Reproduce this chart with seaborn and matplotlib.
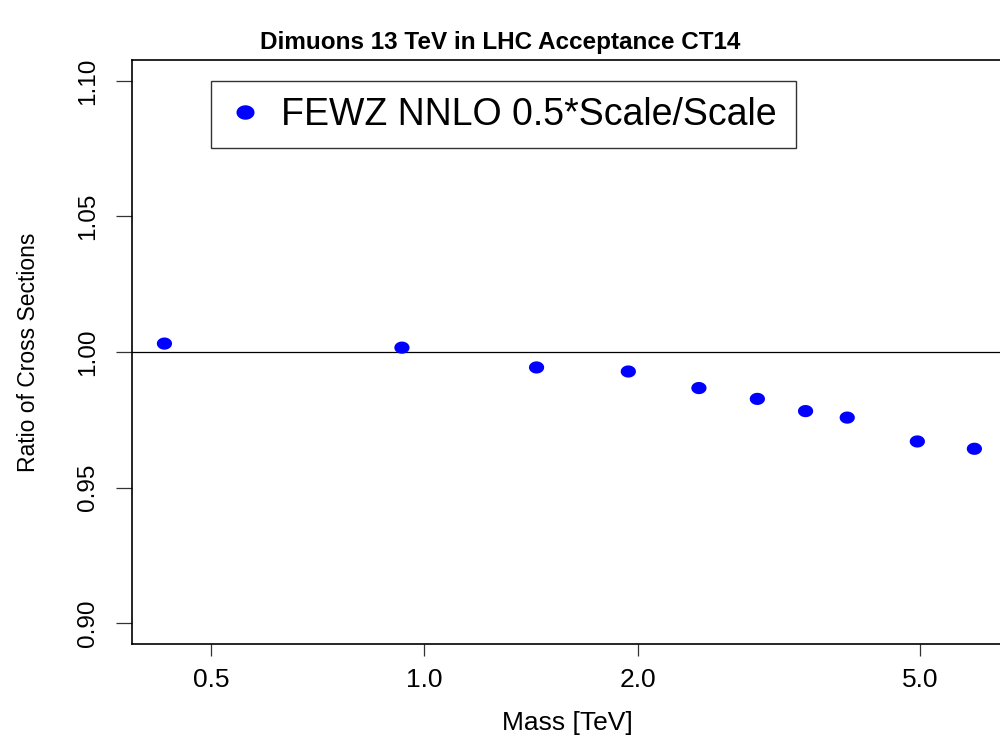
import numpy as np
import pandas as pd
import matplotlib
matplotlib.use("Agg")
import matplotlib.pyplot as plt
from matplotlib.path import Path
from matplotlib.lines import Line2D
import seaborn as sns

# Dimuon invariant-mass bins (TeV) and the cross-section ratio in each
mass_tev = [0.43, 0.93, 1.44, 1.94, 2.44, 2.95, 3.45, 3.95, 4.96, 5.97]
ratio = [1.0031, 1.0016, 0.9943, 0.9928, 0.9867, 0.9827, 0.9782, 0.9758, 0.9670, 0.9643]

x_ticks = [0.5, 1.0, 2.0, 5.0]
x_tick_labels = ["0.5", "1.0", "2.0", "5.0"]
y_ticks = [0.90, 0.95, 1.00, 1.05, 1.10]
y_tick_labels = ["0.90", "0.95", "1.00", "1.05", "1.10"]

series_label = "FEWZ NNLO 0.5*Scale/Scale"
title = "Dimuons 13 TeV in LHC Acceptance CT14"

df = pd.DataFrame({"mass": mass_tev, "ratio": ratio})

sns.set_style("white")
plt.rcParams["font.family"] = ["Liberation Sans", "DejaVu Sans"]
plt.rcParams["text.color"] = "black"
plt.rcParams["axes.labelcolor"] = "black"
plt.rcParams["xtick.color"] = "black"
plt.rcParams["ytick.color"] = "black"

# slightly wide elliptical dot
t = np.linspace(0, 2 * np.pi, 64)
ellipse = Path(np.column_stack([1.25 * np.cos(t), np.sin(t)]), closed=True)

fig = plt.figure(figsize=(10, 7.44), dpi=100)
ax = fig.add_axes([0.132, 0.1344, 0.870, 0.785])

sns.scatterplot(data=df, x="mass", y="ratio", ax=ax, marker=ellipse,
                s=120, color="#0000FF", edgecolor="none", linewidth=0,
                legend=False, zorder=3)
ax.axhline(1.0, color="black", lw=0.9, zorder=2)

ax.set_xscale("log")
ax.set_xlim(0.387, 6.53)
ax.set_ylim(0.8923, 1.1077)
ax.minorticks_off()
ax.set_xticks(x_ticks)
ax.set_xticklabels(x_tick_labels, fontsize=19)
ax.set_yticks(y_ticks)
ax.set_yticklabels(y_tick_labels, fontsize=17.5, rotation=90, va="center")

ax.tick_params(axis="x", length=8.6, width=0.9, color="#333333", pad=9,
               direction="out", bottom=True, labelcolor="black")
ax.tick_params(axis="y", length=11.5, width=0.9, color="#333333", pad=12,
               direction="out", left=True, labelcolor="black")

for side, sp in ax.spines.items():
    sp.set_color("black")
    sp.set_linewidth(1.2)

ax.set_xlabel("Mass [TeV]", fontsize=19, labelpad=13)
ax.set_ylabel("Ratio of Cross Sections", fontsize=16.5, labelpad=27)

fig.text(0.5, 0.943, title, ha="center", va="center",
         fontsize=17.5, fontweight="bold")

handle = Line2D([], [], linestyle="none", marker=ellipse, markersize=13,
                markerfacecolor="#0000FF", markeredgewidth=0)
leg = ax.legend([handle], [series_label], loc="upper left",
                bbox_to_anchor=(0.0908, 0.964, 0.672, 0.0),
                mode="expand", fontsize=27, frameon=True, fancybox=False,
                borderaxespad=0, borderpad=0.42, handlelength=0.95,
                handletextpad=0.5)
leg.get_frame().set_edgecolor("black")
leg.get_frame().set_linewidth(1.0)

fig.savefig("out.png", dpi=100, facecolor="white")
